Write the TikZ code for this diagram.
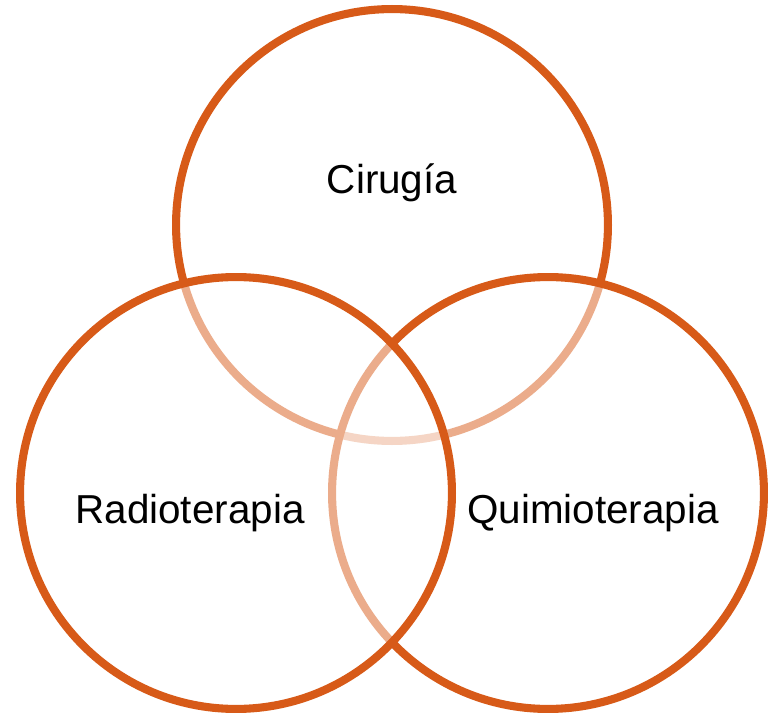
\documentclass[tikz,border=0pt]{standalone}
\usepackage{fontspec}
\setmainfont{Liberation Sans}
\definecolor{naranja}{RGB}{215,90,24}
\tikzset{
  ring/.style={circle, draw=naranja, line width=4.6pt, minimum size=8.64cm, inner sep=0pt},
  veil/.style={fill=white, fill opacity=0.5},
  titulo/.style={anchor=base, font=\fontsize{23}{27}\selectfont}
}
\begin{document}
\begin{tikzpicture}[x=0.02cm,y=-0.02cm]
\useasboundingbox (0,0) rectangle (768,713);
\node[ring] (cir) at (392,225) {};
\node[ring, veil] (qui) at (548,493) {};
\node[ring, veil] (rad) at (236,493) {};
\node[titulo] (tcir) at (392,194) {Cirugía};
\node[titulo] (trad) at (190,523) {Radioterapia};
\node[titulo] (tqui) at (593,523) {Quimioterapia};
\end{tikzpicture}
\end{document}
